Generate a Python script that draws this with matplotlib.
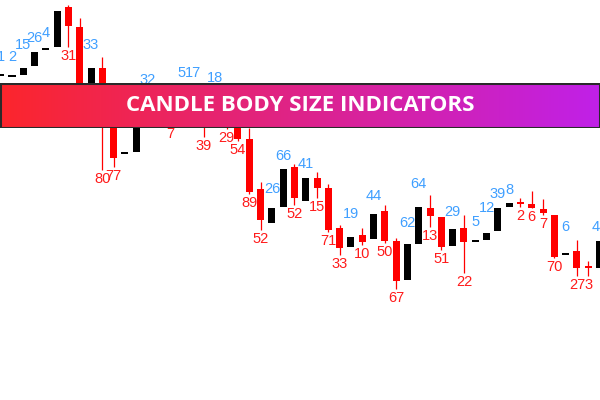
import numpy as np
import matplotlib
matplotlib.use("Agg")
import matplotlib.pyplot as plt
from matplotlib.patches import Rectangle

# candle data (price units)
opens = [324, 323, 325, 334, 350, 353, 393, 373, 310, 332, 288, 246, 248, 281, 288, 282, 302, 295,
         300, 295, 292, 293, 261, 211, 177, 193, 233, 199, 222, 212, 172, 153, 165, 161, 189, 159,
         120, 156, 192, 183, 154, 172, 158, 160, 169, 193, 198, 196, 191, 185, 145, 149, 134, 132]
closes = [326, 325, 332, 348, 352, 389, 374, 295, 332, 285, 242, 248, 285, 300, 295, 278, 305, 305,
          277, 305, 275, 261, 208, 180, 192, 231, 202, 222, 212, 170, 152, 163, 158, 186, 159, 119,
          156, 193, 184, 153, 171, 158, 160, 167, 192, 197, 196, 192, 187, 143, 147, 132, 132, 159]
highs = [334, 334, 346, 353, 358, 430, 395, 382, 346, 343, 300, 270, 292, 311, 300, 288, 318, 318,
         305, 313, 300, 300, 272, 218, 202, 235, 236, 227, 228, 216, 175, 177, 172, 195, 195, 162,
         168, 207, 205, 183, 179, 185, 169, 183, 197, 201, 202, 209, 201, 185, 164, 160, 139, 164]
lows = [324, 323, 325, 334, 350, 353, 353, 290, 310, 230, 233, 246, 248, 280, 288, 275, 302, 295,
        263, 295, 271, 259, 206, 170, 177, 193, 195, 199, 202, 168, 145, 153, 155, 161, 157, 111,
        120, 156, 173, 150, 154, 127, 158, 160, 169, 193, 193, 192, 185, 142, 145, 124, 124, 132]
# body size labels (points)
sizes = [1, 2, 15, 26, 4, 71, 31, 46, 33, 80, 77, 2, 61, 32, 12, 7, 5, 17,
         39, 18, 29, 54, 89, 52, 26, 66, 52, 41, 15, 71, 33, 19, 10, 44, 50, 67,
         62, 64, 13, 51, 29, 22, 5, 12, 39, 8, 2, 6, 7, 70, 6, 27, 3, 48]

title = "CANDLE BODY SIZE INDICATORS"

bull_col = "black"
bear_col = "#ff0000"
bull_txt = "#3f9fff"
bear_txt = "#ff1a1a"

fig = plt.figure(figsize=(6, 4), dpi=100)
ax = fig.add_axes([0, 0, 1, 1])
ax.axis("off")

n = len(opens)
x = np.arange(n)
w = 0.62
for i in x:
    o, c, h, l = opens[i], closes[i], highs[i], lows[i]
    bull = c >= o
    col = bull_col if bull else bear_col
    # bull wicks are white on this chart (invisible)
    ax.vlines(i, l, h, color="white" if bull else col, lw=0.9, zorder=1)
    bottom = min(o, c)
    height = max(abs(c - o), 2)
    ax.add_patch(Rectangle((i - w / 2, bottom), w, height, color=col, lw=0, zorder=2))
    if bull:
        ax.text(i, h + 9, str(sizes[i]), color=bull_txt, ha="center", va="center",
                fontsize=10.5, family="Liberation Sans", zorder=3)
    else:
        ax.text(i, l - 9, str(sizes[i]), color=bear_txt, ha="center", va="center",
                fontsize=10.5, family="Liberation Sans", zorder=3)

ax.set_xlim(-0.062, 53.04)
ax.set_ylim(0, 400)

# gradient banner
bax = fig.add_axes([0, 0.68, 1, 0.1125])
bax.axis("off")
c1 = np.array([252, 38, 44]) / 255
c2 = np.array([192, 32, 232]) / 255
t = np.linspace(0, 1, 256)[:, None]
grad = (c1 * (1 - t) + c2 * t)[None, :, :]
bax.imshow(grad, aspect="auto", extent=[0, 1, 0, 1])
bax.add_patch(Rectangle((0, 0), 1, 1, fill=False, ec="#2a2a2a", lw=2.2, transform=bax.transAxes))
bax.set_xlim(0, 1)
bax.set_ylim(0, 1)
bax.text(0.5, 0.5, title, color="white", ha="center", va="center", fontsize=16,
         fontweight="bold", family="Open Sans")

fig.savefig("out.png", dpi=100)
